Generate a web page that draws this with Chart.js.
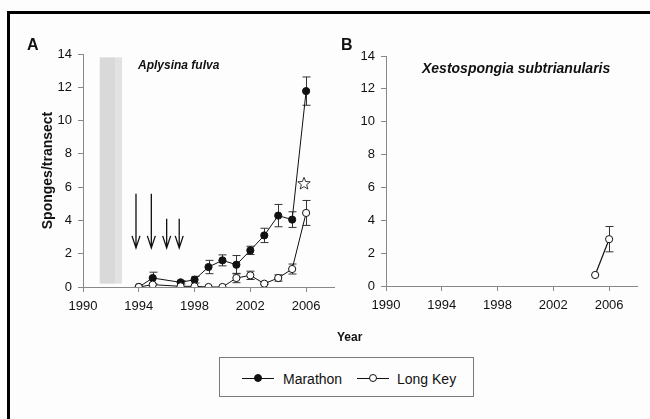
<!DOCTYPE html>
<html>
<head>
<meta charset="utf-8">
<script src="https://cdn.jsdelivr.net/npm/chart.js@4"></script>
<style>
  body { margin: 0; background: #fdfdfd; }
  #fig { position: relative; width: 650px; height: 419px; overflow: hidden; background: #fdfdfd;
         font-family: "Liberation Sans", Arial, sans-serif; color: #111; }
  .frame { position: absolute; left: 7px; top: 11px; width: 700px; height: 500px;
           border-top: 3px solid #000; border-left: 3px solid #000; }
  .txt { position: absolute; white-space: nowrap; line-height: 1; }
  canvas { position: absolute; top: 0; }
  #legend { position: absolute; left: 219px; top: 357px; width: 253px; height: 38px;
            border: 1px solid #7a7a7a; }
  .lg-line { position: absolute; height: 1px; background: #111; width: 32px; top: 20px; }
  .lg-dot { position: absolute; width: 6px; height: 6px; border-radius: 50%; border: 1px solid #111; top: 16px; }
  .lg-txt { position: absolute; top: 13px; font-size: 14px; }
</style>
</head>
<body>
<div id="fig">
  <div class="frame"></div>
  <canvas id="chart_a" width="345" height="320" style="left:0px"></canvas>
  <canvas id="chart_b" width="310" height="319" style="left:340px"></canvas>

  <div class="txt" style="left:27px; top:37px; font-size:16px; font-weight:bold;">A</div>
  <div class="txt" style="left:138px; top:59px; font-size:12px; font-weight:bold; font-style:italic;">Aplysina fulva</div>
  <div class="txt" style="left:341px; top:37px; font-size:16px; font-weight:bold;">B</div>
  <div class="txt" style="left:422px; top:61px; font-size:14px; font-weight:bold; font-style:italic;">Xestospongia subtrianularis</div>
  <div class="txt" style="left:337px; top:331px; font-size:12px; font-weight:bold;">Year</div>

  <div id="legend">
    <div class="lg-line" style="left:22px"></div>
    <div class="lg-dot" style="left:34px; background:#111"></div>
    <div class="lg-txt" style="left:63px">Marathon</div>
    <div class="lg-line" style="left:137px"></div>
    <div class="lg-dot" style="left:149px; background:#fff"></div>
    <div class="lg-txt" style="left:177px">Long Key</div>
  </div>
</div>

<script>
// ---- datos ----
const xTicks = [1990, 1994, 1998, 2002, 2006];

// Panel A - Aplysina fulva
const years_a = [1994, 1995, 1997, 1998, 1999, 2000, 2001, 2002, 2003, 2004, 2005, 2006];
const marathon_a =     [0, 0.54, 0.28, 0.44, 1.2, 1.6, 1.34, 2.2, 3.1, 4.29, 4.05, 11.77];
const marathon_a_err = [0, 0.35, 0.1, 0.2, 0.4, 0.33, 0.55, 0.25, 0.43, 0.67, 0.47, 0.85];
const longkey_a =      [0, 0.14, 0.04, 0.04, 0, 0, 0.54, 0.7, 0.2, 0.54, 1.08, 4.45];
const longkey_a_err =  [0, 0, 0, 0, 0, 0, 0.28, 0.25, 0.05, 0.19, 0.3, 0.75];

// Panel B - Xestospongia subtrianularis
const years_b = [2005, 2006];
const longkey_b =     [0.67, 2.85];
const longkey_b_err = [0, 0.77];

// anotaciones del panel A
const arrow_years = [1993.8, 1994.9, 1996.0, 1996.9];
const arrow_tops = [5.6, 5.6, 4.1, 4.1];
const arrow_tip = 2.35;
const star_point = {x: 2005.85, y: 6.2};
const shade_band = {x0: 1991.2, xm: 1992.3, x1: 1992.8, y0: 0.2, y1: 13.8};

Chart.defaults.font.family = "'Liberation Sans', Arial, sans-serif";
Chart.defaults.color = "#111";

function pts(xs, ys) {
	return xs.map((v, i) => ({x: v, y: ys[i]}));
}

// barras de error, dibujadas antes de los puntos
const errorBars = {
	id: "errorBars",
	beforeDatasetsDraw(chart) {
		const {ctx, scales: {x, y}} = chart;
		ctx.save();
		ctx.strokeStyle = "#333";
		ctx.lineWidth = 1;
		chart.data.datasets.forEach(ds => {
			if (!ds.errs) return;
			ds.data.forEach((p, i) => {
				const e = ds.errs[i];
				if (!e) return;
				const px = Math.round(x.getPixelForValue(p.x)) + 0.5;
				const top = y.getPixelForValue(p.y + e);
				const bot = y.getPixelForValue(p.y - e);
				ctx.beginPath();
				ctx.moveTo(px, top); ctx.lineTo(px, bot);
				ctx.moveTo(px - 4, top); ctx.lineTo(px + 4, top);
				ctx.moveTo(px - 4, bot); ctx.lineTo(px + 4, bot);
				ctx.stroke();
			});
		});
		ctx.restore();
	}
};

// banda gris, flechas y estrella del panel A
const notesA = {
	id: "notesA",
	beforeDatasetsDraw(chart) {
		const {ctx, scales: {x, y}} = chart;
		const b = shade_band;
		ctx.save();
		ctx.fillStyle = "#d9d9d9";
		ctx.fillRect(x.getPixelForValue(b.x0), y.getPixelForValue(b.y1),
			x.getPixelForValue(b.xm) - x.getPixelForValue(b.x0), y.getPixelForValue(b.y0) - y.getPixelForValue(b.y1));
		ctx.fillStyle = "#e2e2e2";
		ctx.fillRect(x.getPixelForValue(b.xm), y.getPixelForValue(b.y1),
			x.getPixelForValue(b.x1) - x.getPixelForValue(b.xm), y.getPixelForValue(b.y0) - y.getPixelForValue(b.y1));
		ctx.restore();
	},
	afterDatasetsDraw(chart) {
		const {ctx, scales: {x, y}} = chart;
		ctx.save();
		ctx.strokeStyle = "#111";
		ctx.lineWidth = 1.3;
		arrow_years.forEach((yr, i) => {
			const px = x.getPixelForValue(yr);
			const top = y.getPixelForValue(arrow_tops[i]);
			const tip = y.getPixelForValue(arrow_tip);
			ctx.beginPath();
			ctx.moveTo(px, top); ctx.lineTo(px, tip);
			ctx.moveTo(px - 4, tip - 12); ctx.lineTo(px, tip); ctx.lineTo(px + 4, tip - 12);
			ctx.stroke();
		});
		// estrella
		const cx = x.getPixelForValue(star_point.x);
		const cy = y.getPixelForValue(star_point.y);
		ctx.beginPath();
		for (let k = 0; k < 10; k++) {
			const r = k % 2 === 0 ? 6.5 : 2.8;
			const a = -Math.PI / 2 + k * Math.PI / 5;
			const px = cx + r * Math.cos(a), py = cy + r * Math.sin(a);
			if (k === 0) ctx.moveTo(px, py); else ctx.lineTo(px, py);
		}
		ctx.closePath();
		ctx.fillStyle = "#fff";
		ctx.fill();
		ctx.lineWidth = 1;
		ctx.strokeStyle = "#333";
		ctx.stroke();
		ctx.restore();
	}
};

function makeScales(yWidth, yTitle) {
	return {
		x: {
			type: "linear", min: 1990, max: 2008,
			afterBuildTicks: s => { s.ticks = xTicks.map(v => ({value: v})); },
			afterFit: s => { s.height = 33; },
			ticks: {callback: v => String(v), font: {size: 13}, padding: 7, maxRotation: 0, autoSkip: false, color: "#111"},
			grid: {drawOnChartArea: false, tickLength: 5, color: "#888"},
			border: {color: "#888"}
		},
		y: {
			min: 0, max: 14,
			afterFit: s => { s.width = yWidth; },
			ticks: {stepSize: 2, font: {size: 13}, padding: 6, color: "#111"},
			grid: {drawOnChartArea: false, tickLength: 5, color: "#888"},
			border: {color: "#888"},
			title: {display: !!yTitle, text: yTitle || "", font: {size: 14, weight: "bold"}, color: "#111"}
		}
	};
}

const ctx_a = document.getElementById("chart_a").getContext("2d");
let chart_a = new Chart(ctx_a, {
	type: "scatter",
	data: {
		datasets: [
			{
				label: "Marathon",
				data: pts(years_a, marathon_a),
				errs: marathon_a_err,
				showLine: true,
				borderColor: "#111",
				backgroundColor: "#111",
				borderWidth: 1,
				pointRadius: 3.6,
				pointBorderWidth: 1,
				order: 1
			},
			{
				label: "Long Key",
				data: pts(years_a, longkey_a),
				errs: longkey_a_err,
				showLine: true,
				borderColor: "#111",
				backgroundColor: "#fff",
				pointBackgroundColor: "#fff",
				borderWidth: 1,
				pointRadius: 3.6,
				pointBorderWidth: 1,
				order: 0
			}
		]
	},
	options: {
		responsive: false,
		animation: false,
		devicePixelRatio: 1,
		layout: {padding: {left: 36, right: 11, top: 54, bottom: 0}},
		plugins: {legend: {display: false}, tooltip: {enabled: false}},
		scales: makeScales(47, "Sponges/transect")
	},
	plugins: [notesA, errorBars]
});

const ctx_b = document.getElementById("chart_b").getContext("2d");
let chart_b = new Chart(ctx_b, {
	type: "scatter",
	data: {
		datasets: [
			{
				label: "Long Key",
				data: pts(years_b, longkey_b),
				errs: longkey_b_err,
				showLine: true,
				borderColor: "#111",
				backgroundColor: "#fff",
				pointBackgroundColor: "#fff",
				borderWidth: 1.2,
				pointRadius: 3.6,
				pointBorderWidth: 1
			}
		]
	},
	options: {
		responsive: false,
		animation: false,
		devicePixelRatio: 1,
		layout: {padding: {left: 3, right: 13, top: 56, bottom: 0}},
		plugins: {legend: {display: false}, tooltip: {enabled: false}},
		scales: makeScales(43, "")
	},
	plugins: [errorBars]
});
</script>
</body>
</html>
